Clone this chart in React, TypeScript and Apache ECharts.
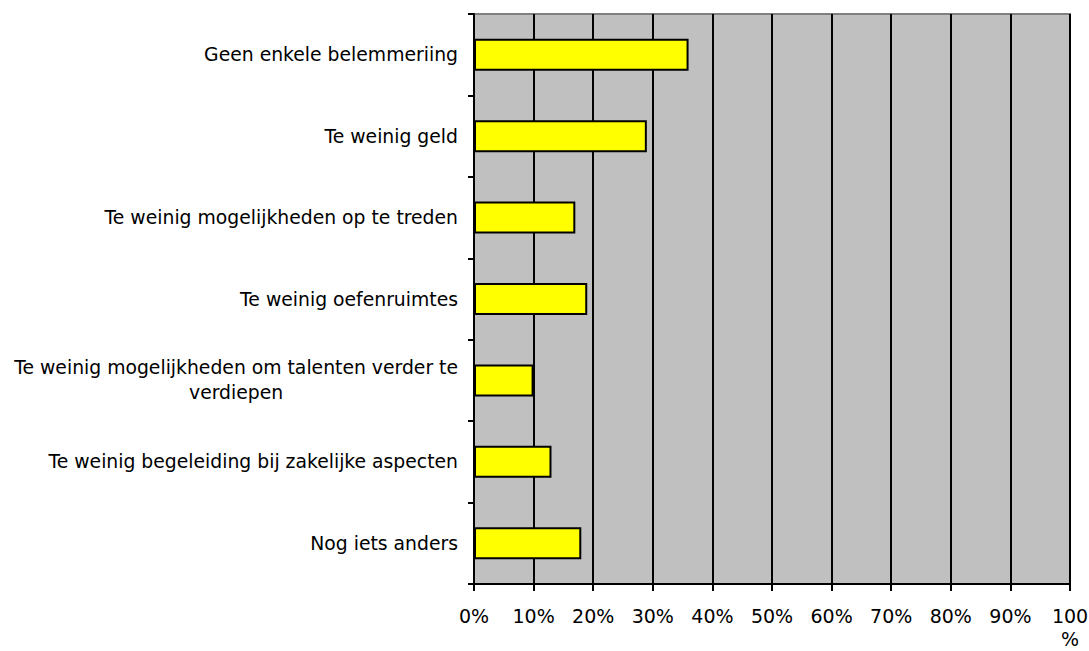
import React, { useEffect, useRef } from "react";
import * as echarts from "echarts";

const categories = [
  "Geen enkele belemmeriing",
  "Te weinig geld",
  "Te weinig mogelijkheden op te treden",
  "Te weinig oefenruimtes",
  "Te weinig mogelijkheden om talenten verder te\nverdiepen",
  "Te weinig begeleiding bij zakelijke aspecten",
  "Nog iets anders",
];
const values = [36, 29, 17, 19, 10, 13, 18];
const xTicks = [0, 10, 20, 30, 40, 50, 60, 70, 80, 90, 100];

const FONT = "DejaVu Sans";

export default function App() {
  const ref = useRef<HTMLDivElement>(null);
  useEffect(() => {
    if (!ref.current) return;
    const chart = echarts.init(ref.current, null, { renderer: "svg" });
    chart.setOption({
      animation: false,
      grid: {
        left: 474,
        right: 19,
        top: 14,
        bottom: 67,
        containLabel: false,
        outerBoundsMode: "none",
        show: true,
        backgroundColor: "#c0c0c0",
        borderColor: "#808080",
        borderWidth: 2,
      },
      xAxis: {
        type: "value",
        min: xTicks[0],
        max: xTicks[xTicks.length - 1],
        interval: 10,
        axisLine: { show: true, lineStyle: { color: "#000", width: 2 } },
        axisTick: { show: true, length: 7, lineStyle: { color: "#000", width: 2 } },
        splitLine: { show: true, lineStyle: { color: "#000", width: 2 } },
        axisLabel: {
          margin: 20,
          color: "#000",
          fontFamily: FONT,
          fontSize: 19,
          lineHeight: 23,
          formatter: (v: number) => (v === 100 ? "100\n%" : v + "%"),
        },
      },
      yAxis: {
        type: "category",
        inverse: true,
        data: categories,
        axisLine: { show: true, lineStyle: { color: "#000", width: 2 } },
        axisTick: { show: true, length: 6, lineStyle: { color: "#000", width: 2 } },
        splitLine: { show: false },
        axisLabel: {
          margin: 16,
          color: "#000",
          fontFamily: FONT,
          fontSize: 18.8,
          lineHeight: 25,
          formatter: (v: string) => {
            if (v.indexOf("\n") >= 0) {
              return v
                .split("\n")
                .map((s) => "{c|" + s + "}")
                .join("\n");
            }
            return v;
          },
          rich: {
            c: {
              align: "center",
              fontFamily: FONT,
              fontSize: 18.8,
              lineHeight: 25,
              color: "#000",
            },
          },
        },
      },
      series: [
        {
          type: "bar",
          data: values,
          barWidth: 32,
          itemStyle: { color: "#ffff00", borderColor: "#000", borderWidth: 2 },
        },
      ],
    });
    return () => chart.dispose();
  }, []);
  return <div ref={ref} style={{ width: 1089, height: 651, position: "absolute", left: 0, top: 0 }} />;
}
